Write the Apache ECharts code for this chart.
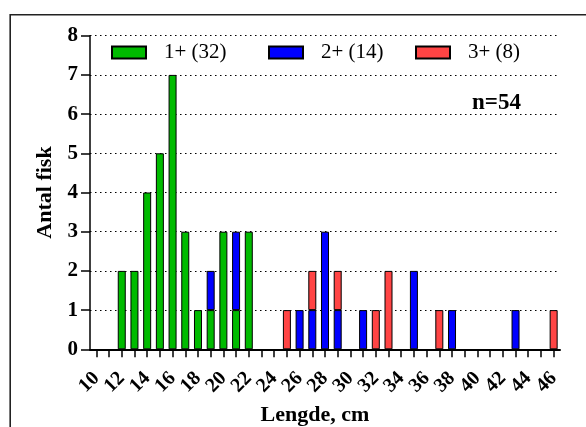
<!DOCTYPE html>
<html>
<head>
<meta charset="utf-8">
<script src="https://cdn.jsdelivr.net/npm/echarts@6/dist/echarts.min.js"></script>
<style>
html,body{margin:0;padding:0;background:#fff;}
#chart{width:586px;height:427px;}
</style>
</head>
<body>
<div id="chart"></div>
<script>
// Length classes (cm)
var lengths = [10,11,12,13,14,15,16,17,18,19,20,21,22,23,24,25,26,27,28,29,30,31,32,33,34,35,36,37,38,39,40,41,42,43,44,45,46];
// Tick labels shown on the x axis
var xTickLabels = [10,12,14,16,18,20,22,24,26,28,30,32,34,36,38,40,42,44,46];
// Counts per length class for each age group
var age1 = [0,0,2,2,4,5,7,3,1,1,3,1,3,0,0,0,0,0,0,0,0,0,0,0,0,0,0,0,0,0,0,0,0,0,0,0,0];
var age2 = [0,0,0,0,0,0,0,0,0,1,0,2,0,0,0,0,1,1,3,1,0,1,0,0,0,2,0,0,1,0,0,0,0,1,0,0,0];
var age3 = [0,0,0,0,0,0,0,0,0,0,0,0,0,0,0,1,0,1,0,1,0,0,1,2,0,0,0,1,0,0,0,0,0,0,0,0,1];
var seriesNames = ['1+ (32)', '2+ (14)', '3+ (8)'];
var seriesColors = ['#00bb00', '#0000ff', '#ff4444'];
var yTicks = [0,1,2,3,4,5,6,7,8];

var FONT = "'Liberation Serif', 'Times New Roman', serif";
function nz(a){ return a.map(function(v){ return v === 0 ? null : v; }); }
var allData = [age1, age2, age3];

var chart = echarts.init(document.getElementById('chart'), null, {renderer:'canvas'});

function legendAt(i, left){
  return {
    data: [seriesNames[i]],
    left: left, top: 42, padding: 0,
    itemWidth: 34, itemHeight: 12,
    icon: 'rect',
    textStyle: {fontFamily: FONT, fontSize: 21, color: '#000', padding: [0,0,0,13]},
    selectedMode: false
  };
}

var option = {
  animation: false,
  backgroundColor: '#fff',
  grid: {left: 90, top: 35.7, width: 470, height: 313.6, containLabel: false, outerBoundsMode: 'none'},
  legend: [legendAt(0, 111), legendAt(1, 268), legendAt(2, 415)],
  xAxis: {
    type: 'category',
    data: lengths,
    boundaryGap: true,
    name: 'Lengde, cm',
    nameLocation: 'middle',
    nameGap: 55,
    nameTextStyle: {fontFamily: FONT, fontSize: 22, fontWeight: 'bold', color: '#000', padding: [0, 20, 0, 0]},
    axisLine: {show: true, lineStyle: {color: '#000', width: 2}},
    axisTick: {show: true, alignWithLabel: true, interval: 0, length: 8, lineStyle: {color: '#000', width: 1.5}},
    axisLabel: {interval: 0, rotate: 45, margin: 26, hideOverlap: false,
      formatter: function(v){ return xTickLabels.indexOf(Number(v)) >= 0 ? String(v) : ''; },
      fontFamily: FONT, fontSize: 20, fontWeight: 'bold', color: '#000'},
    splitLine: {show: false}
  },
  yAxis: {
    type: 'value',
    min: 0, max: 8, interval: 1,
    name: 'Antal fisk',
    nameLocation: 'middle',
    nameGap: 34,
    nameTextStyle: {fontFamily: FONT, fontSize: 22, fontWeight: 'bold', color: '#000'},
    axisLine: {show: true, lineStyle: {color: '#000', width: 1.5}},
    axisTick: {show: true, length: 9, lineStyle: {color: '#000', width: 1.5}},
    axisLabel: {margin: 12, showMinLabel: true, showMaxLabel: true, fontFamily: FONT, fontSize: 21, fontWeight: 'bold', color: '#000',
      formatter: function(v){ return yTicks.indexOf(v) >= 0 ? String(v) : ''; }},
    splitLine: {show: true, lineStyle: {color: '#000', width: 1.2, type: [1.5, 3.5]}}
  },
  graphic: [
    {type: 'rect', shape: {x: 10.2, y: 14.7, width: 700, height: 600}, style: {fill: null, stroke: '#222', lineWidth: 1.6}, silent: true, z: 100},
    {type: 'text', left: 472, top: 92, style: {text: 'n=54', fontFamily: FONT, fontSize: 23, fontWeight: 'bold', fill: '#000'}, z: 100}
  ],
  series: allData.map(function(arr, i){
    return {
      name: seriesNames[i],
      type: 'bar',
      stack: 'age',
      barWidth: 8,
      data: nz(arr),
      itemStyle: {color: seriesColors[i], borderColor: '#000', borderWidth: 1}
    };
  })
};
chart.setOption(option);
</script>
</body>
</html>
